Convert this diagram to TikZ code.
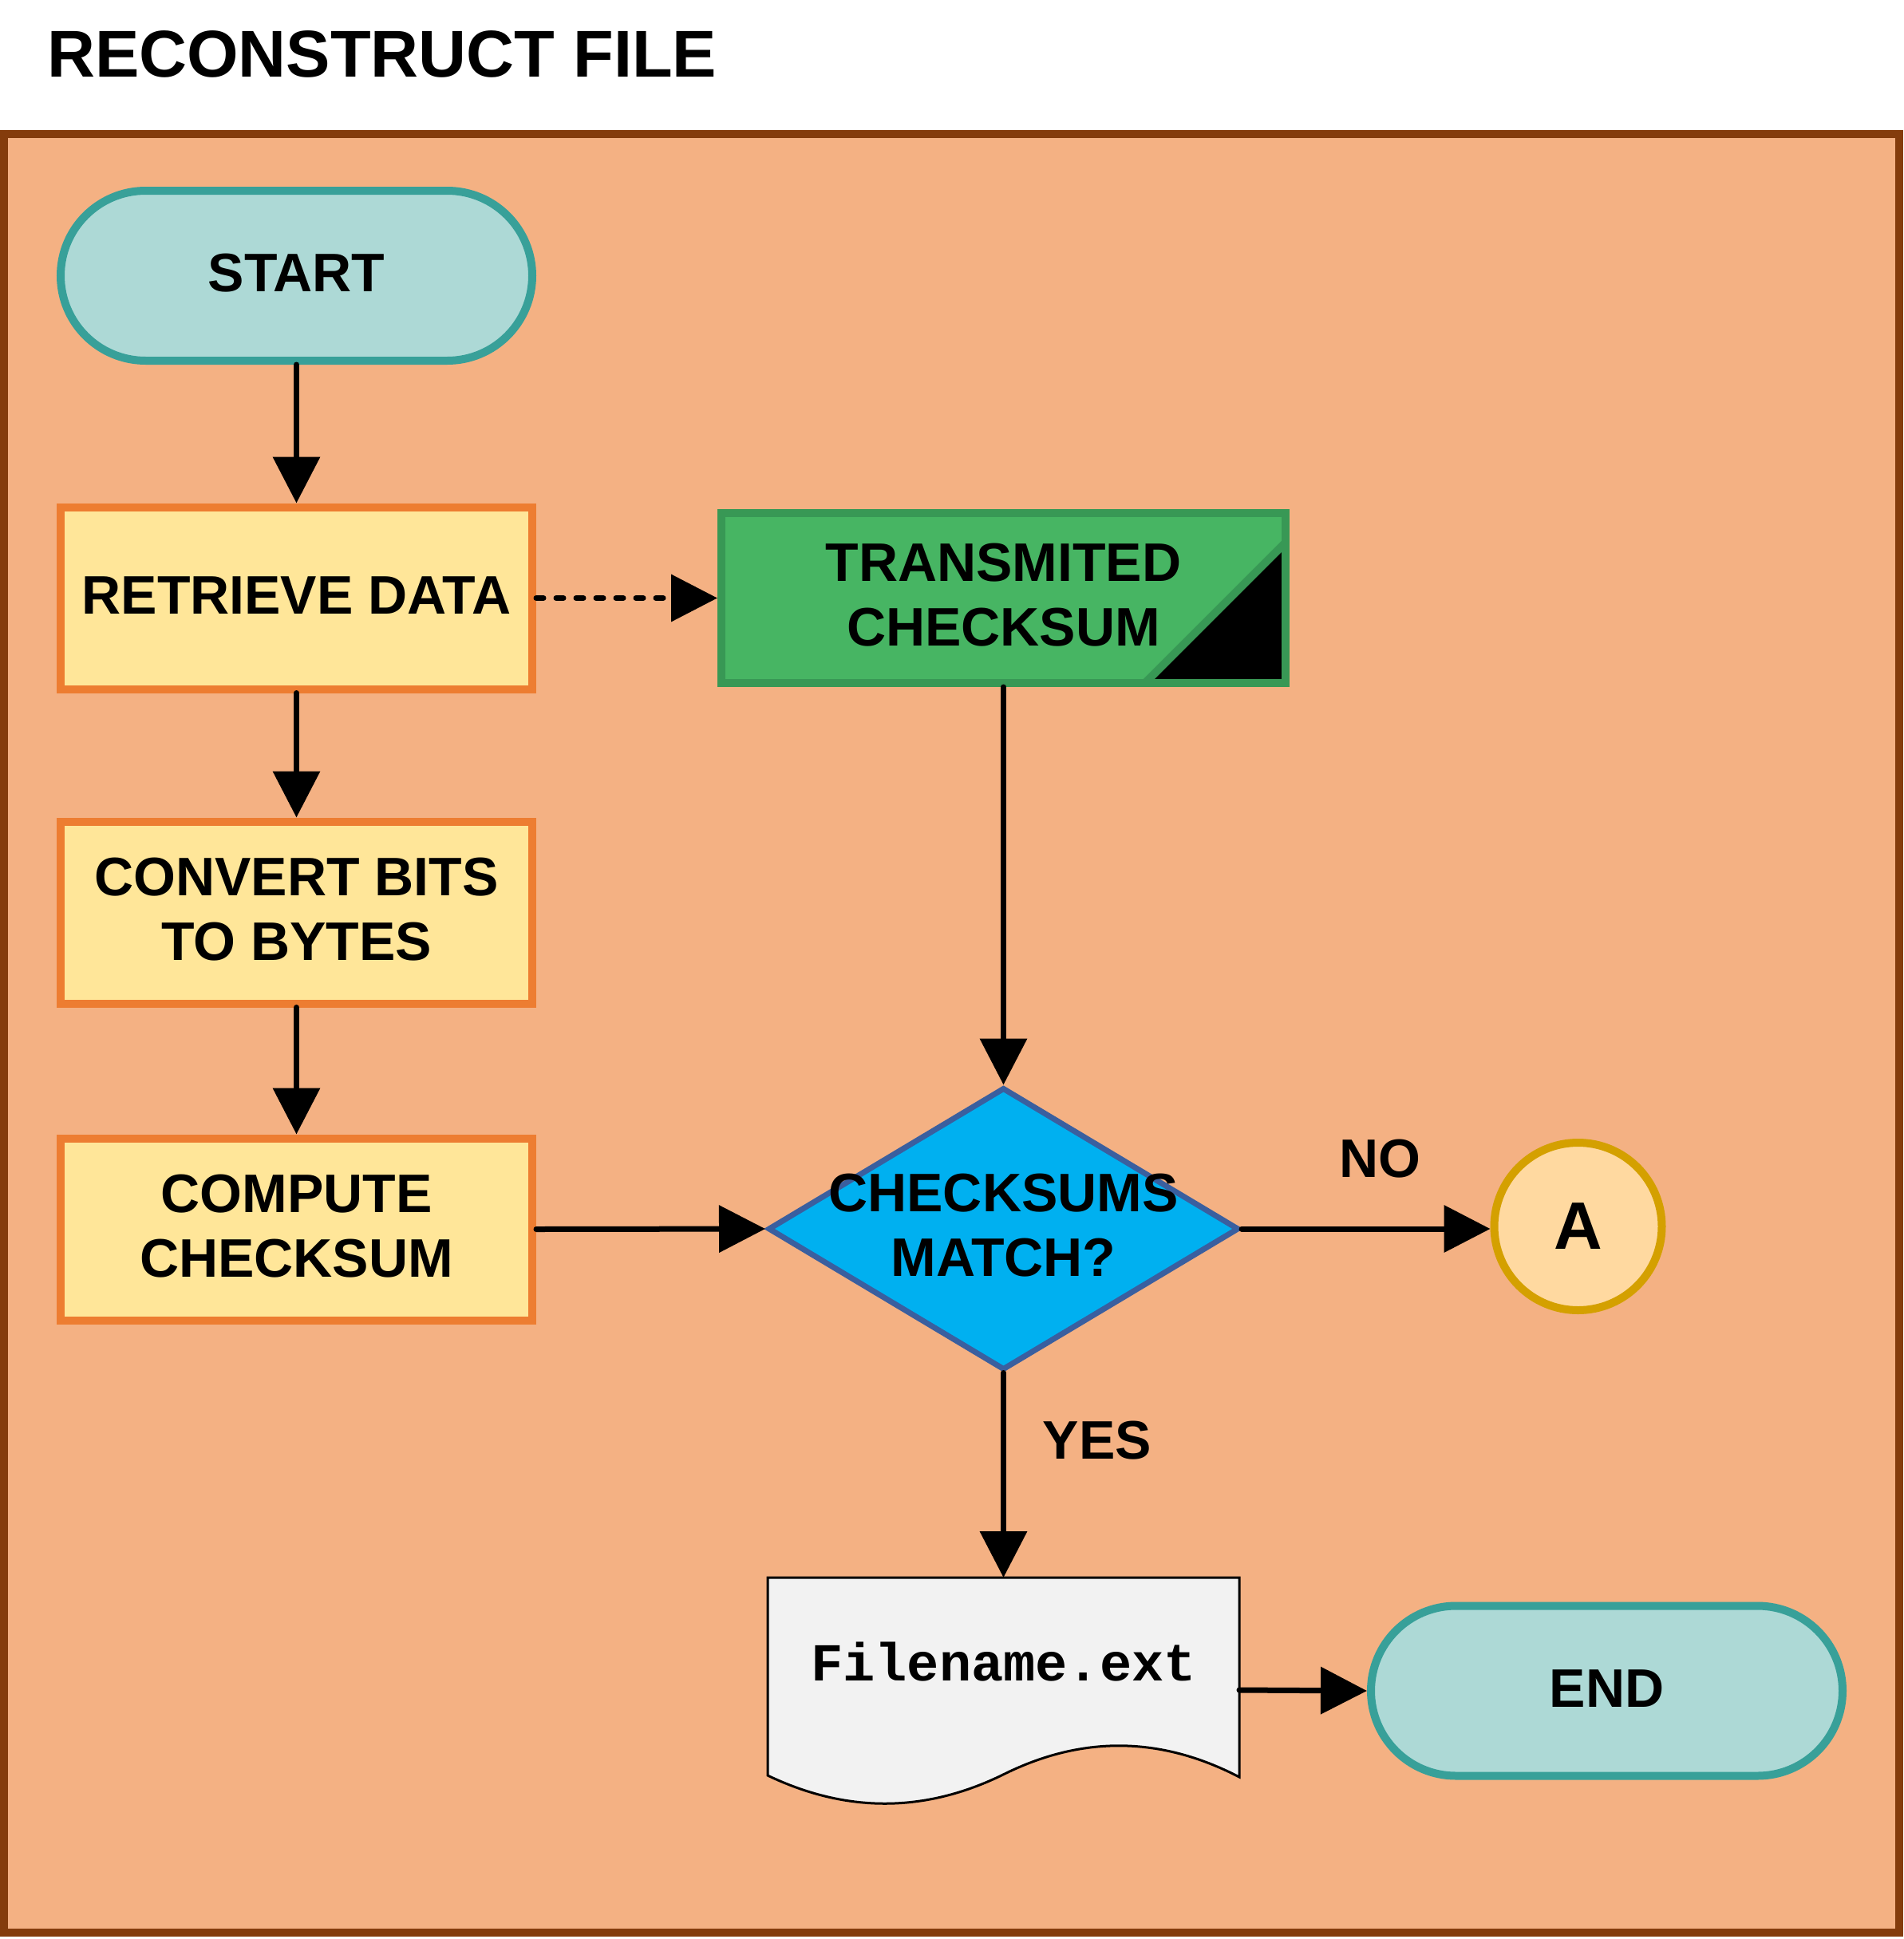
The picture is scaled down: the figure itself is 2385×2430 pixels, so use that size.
\documentclass[tikz,border=0pt]{standalone}
\usepackage{fontspec}
\setmainfont{Liberation Sans}
\newfontfamily\docmono{Liberation Mono}
\usetikzlibrary{arrows.meta,shapes.misc,shapes.geometric,calc}
\definecolor{bgfill}{HTML}{F4B183}
\definecolor{bgline}{HTML}{843C0C}
\definecolor{termfill}{HTML}{ADD9D6}
\definecolor{termline}{HTML}{38A099}
\definecolor{procfill}{HTML}{FFE699}
\definecolor{procline}{HTML}{ED7D31}
\definecolor{datafill}{HTML}{47B563}
\definecolor{dataline}{HTML}{389855}
\definecolor{decfill}{HTML}{00B0F0}
\definecolor{decline}{HTML}{3A5F9F}
\definecolor{conffill}{HTML}{FFD9A0}
\definecolor{confline}{HTML}{D4A000}
\definecolor{docfill}{HTML}{F2F2F2}
\tikzset{
  lbl/.style={font=\fontsize{68}{81}\selectfont\bfseries, align=center, text=black},
  term/.style={rounded rectangle, draw=termline, fill=termfill, line width=10pt, minimum width=591pt, minimum height=213pt, inner sep=0pt, lbl},
  proc/.style={rectangle, draw=procline, fill=procfill, line width=10pt, minimum width=591pt, minimum height=228pt, inner sep=0pt, lbl},
  datab/.style={rectangle, draw=dataline, fill=datafill, line width=10pt, minimum width=707pt, minimum height=213pt, inner sep=0pt},
  decb/.style={diamond, draw=decline, fill=decfill, line width=7pt, minimum width=590pt, minimum height=354pt, inner sep=0pt},
  conn/.style={circle, draw=confline, fill=conffill, line width=10pt, minimum size=210pt, inner sep=0pt, font=\fontsize{84}{90}\selectfont\bfseries},
  arr/.style={line width=7pt, line cap=round, -{Triangle[length=58pt,width=58pt]}},
  dotarr/.style={arr, dash pattern=on 9pt off 16pt},
}
\begin{document}
\begin{tikzpicture}[x=1pt,y=-1pt]
\useasboundingbox (0,0) rectangle (2385,2430);
\fill[white] (0,0) rectangle (2385,2430);
% title
\node[anchor=base west, inner sep=0pt, font=\fontsize{83}{100}\selectfont\bfseries] (title) at (59,97) {RECONSTRUCT FILE};
% frame
\draw[bgline, fill=bgfill, line width=10pt] (5,168) rectangle (2380,2422);
% nodes
\node[term] (start) at (371.5,345.5) {};
\node[lbl] (starttext) at (371.5,342.5) {START};
\node[proc] (retr) at (371.5,749.5) {};
\node[lbl] (retrtext) at (371.5,746) {RETRIEVE DATA};
\node[proc] (conv) at (371.5,1143.5) {};
\node[lbl] (convtext) at (371.5,1140) {CONVERT BITS\\TO BYTES};
\node[proc] (comp) at (371.5,1540.5) {};
\node[lbl] (comptext) at (371.5,1537) {COMPUTE\\CHECKSUM};
% transmitted checksum
\node[datab] (tc) at (1257.5,749.5) {};
\draw[dataline, line width=10pt] (1611,680) -- (1435,856);
\fill[black] (1606,692) -- (1606,851) -- (1447,851) -- cycle;
\draw[dataline, line width=10pt] (904,643) rectangle (1611,856);
\node[lbl] (tctext) at (1257.5,746) {TRANSMITED\\CHECKSUM};
% decision
\node[decb] (dec) at (1257.5,1540) {};
\node[lbl] (dectext) at (1257.5,1536) {CHECKSUMS\\MATCH?};
% connector A
\node[conn] (cA) at (1977.5,1537) {A};
% document
\node[inner sep=0pt, outer sep=0pt, minimum width=591pt, minimum height=282pt] (doc) at (1257.5,2118) {};
\draw[black, fill=docfill, line width=3pt, line join=miter]
  (962,1977) -- (1553,1977) -- (1553,2227)
  .. controls (1454.3,2175.7) and (1355.7,2174.7) .. (1257,2224)
  .. controls (1159,2272) and (1060.7,2272.3) .. (962,2225) -- cycle;
\node[inner sep=0pt, font=\fontsize{67}{70}\selectfont\docmono\bfseries] (doctext) at (1257.5,2083) {Filename.ext};
% end
\node[term] (endn) at (2013.5,2119) {};
\node[lbl] (endtext) at (2013.5,2116) {END};
% labels
\node[lbl] (no) at (1729,1452) {NO};
\node[lbl] (yes) at (1375,1805) {YES};
% connectors
\draw[arr] (start.south) -- (retr.north);
\draw[arr] (retr.south) -- (conv.north);
\draw[arr] (conv.south) -- (comp.north);
\draw[dotarr] (retr.east) -- (tc.west);
\draw[arr] (tc.south) -- (dec.north);
\draw[arr] (comp.east) -- (dec.west);
\draw[arr] (dec.east) -- (dec.east -| cA.west);
\draw[arr] (dec.south) -- (doc.north);
\draw[arr] (doc.east) -- (endn.west);
\end{tikzpicture}
\end{document}
